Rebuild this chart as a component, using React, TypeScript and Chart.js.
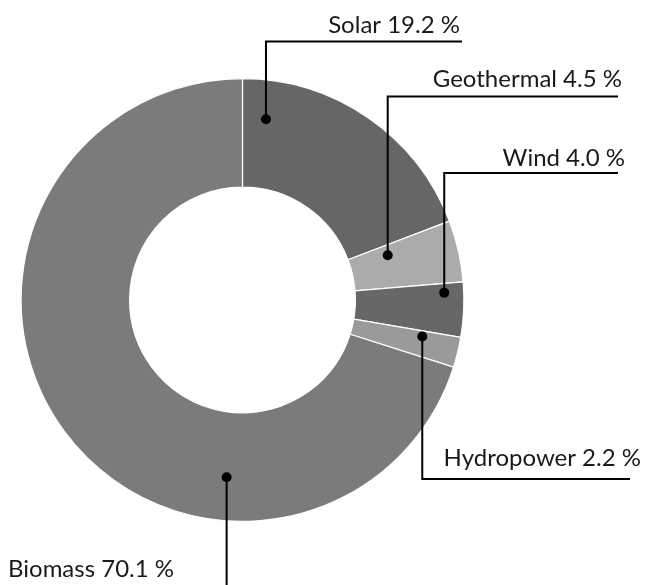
import React, { useEffect, useRef } from "react";
import { Chart, registerables } from "chart.js";

Chart.register(...registerables);

const categories = ["Solar", "Geothermal", "Wind", "Hydropower", "Biomass"];
const shares = [19.2, 4.5, 4.0, 2.2, 70.1];
const sliceColors = ["#666666", "#ababab", "#676767", "#9a9a9a", "#7b7b7b"];

// Callout layout: dot position within slice (angle fraction, radial fraction),
// elbow line y, horizontal line end x, text anchor.
const calloutDotAngle = [0.107, 0.23, 0.18, 0.22, 0.307];
const calloutDotRadius = [0.64, 0.36, 0.82, 0.65, 0.6];
const calloutLineY = [41.5, 96.5, 173, 479, 600];
const calloutLineEndX = [462, 618, 618, 630, null];
const calloutTextX = [460, 622, 625, 641, 8];
const calloutTextY = [33, 87, 166, 466, 577];
const calloutTextAlign = ["right", "right", "right", "right", "left"];

const FONT = '24px Lato, "Liberation Sans", sans-serif';

const calloutPlugin = {
  id: "callouts",
  afterDatasetsDraw(chart: any) {
    const ctx = chart.ctx;
    const meta = chart.getDatasetMeta(0);
    ctx.save();
    meta.data.forEach((el: any, i: number) => {
      const p = el.getProps(["x", "y", "startAngle", "endAngle", "innerRadius", "outerRadius"], true);
      const a = p.startAngle + calloutDotAngle[i] * (p.endAngle - p.startAngle);
      const r = p.innerRadius + calloutDotRadius[i] * (p.outerRadius - p.innerRadius);
      const dx = p.x + Math.cos(a) * r;
      const dy = p.y + Math.sin(a) * r;
      ctx.strokeStyle = "#000";
      ctx.lineWidth = 2;
      ctx.beginPath();
      ctx.moveTo(dx, dy);
      ctx.lineTo(dx, calloutLineY[i]);
      const endX = calloutLineEndX[i];
      if (endX !== null) ctx.lineTo(endX, calloutLineY[i]);
      ctx.stroke();
      ctx.fillStyle = "#000";
      ctx.beginPath();
      ctx.arc(dx, dy, 5, 0, Math.PI * 2);
      ctx.fill();
      ctx.font = FONT;
      ctx.fillStyle = "#1a1a1a";
      ctx.textAlign = calloutTextAlign[i];
      ctx.textBaseline = "alphabetic";
      ctx.fillText(`${categories[i]} ${shares[i].toFixed(1)} %`, calloutTextX[i], calloutTextY[i]);
    });
    ctx.restore();
  },
};

export default function App() {
  const ref = useRef<HTMLCanvasElement | null>(null);
  useEffect(() => {
    if (!ref.current) return;
    const chart = new Chart(ref.current, {
      type: "doughnut",
      data: {
        labels: categories,
        datasets: [
          {
            data: shares,
            backgroundColor: sliceColors,
            borderColor: "#ffffff",
            borderWidth: 1.2,
          },
        ],
      },
      options: {
        responsive: false,
        animation: false,
        cutout: "51%",
        layout: { padding: { left: 20, right: 182, top: 78, bottom: 63 } },
        plugins: {
          legend: { display: false },
          tooltip: { enabled: false },
        },
      },
      plugins: [calloutPlugin],
    });
    return () => chart.destroy();
  }, []);
  return (
    <div style={{ position: "absolute", left: 0, top: 0, width: 647, height: 585, background: "#fff" }}>
      <canvas ref={ref} width={647} height={585} />
    </div>
  );
}
